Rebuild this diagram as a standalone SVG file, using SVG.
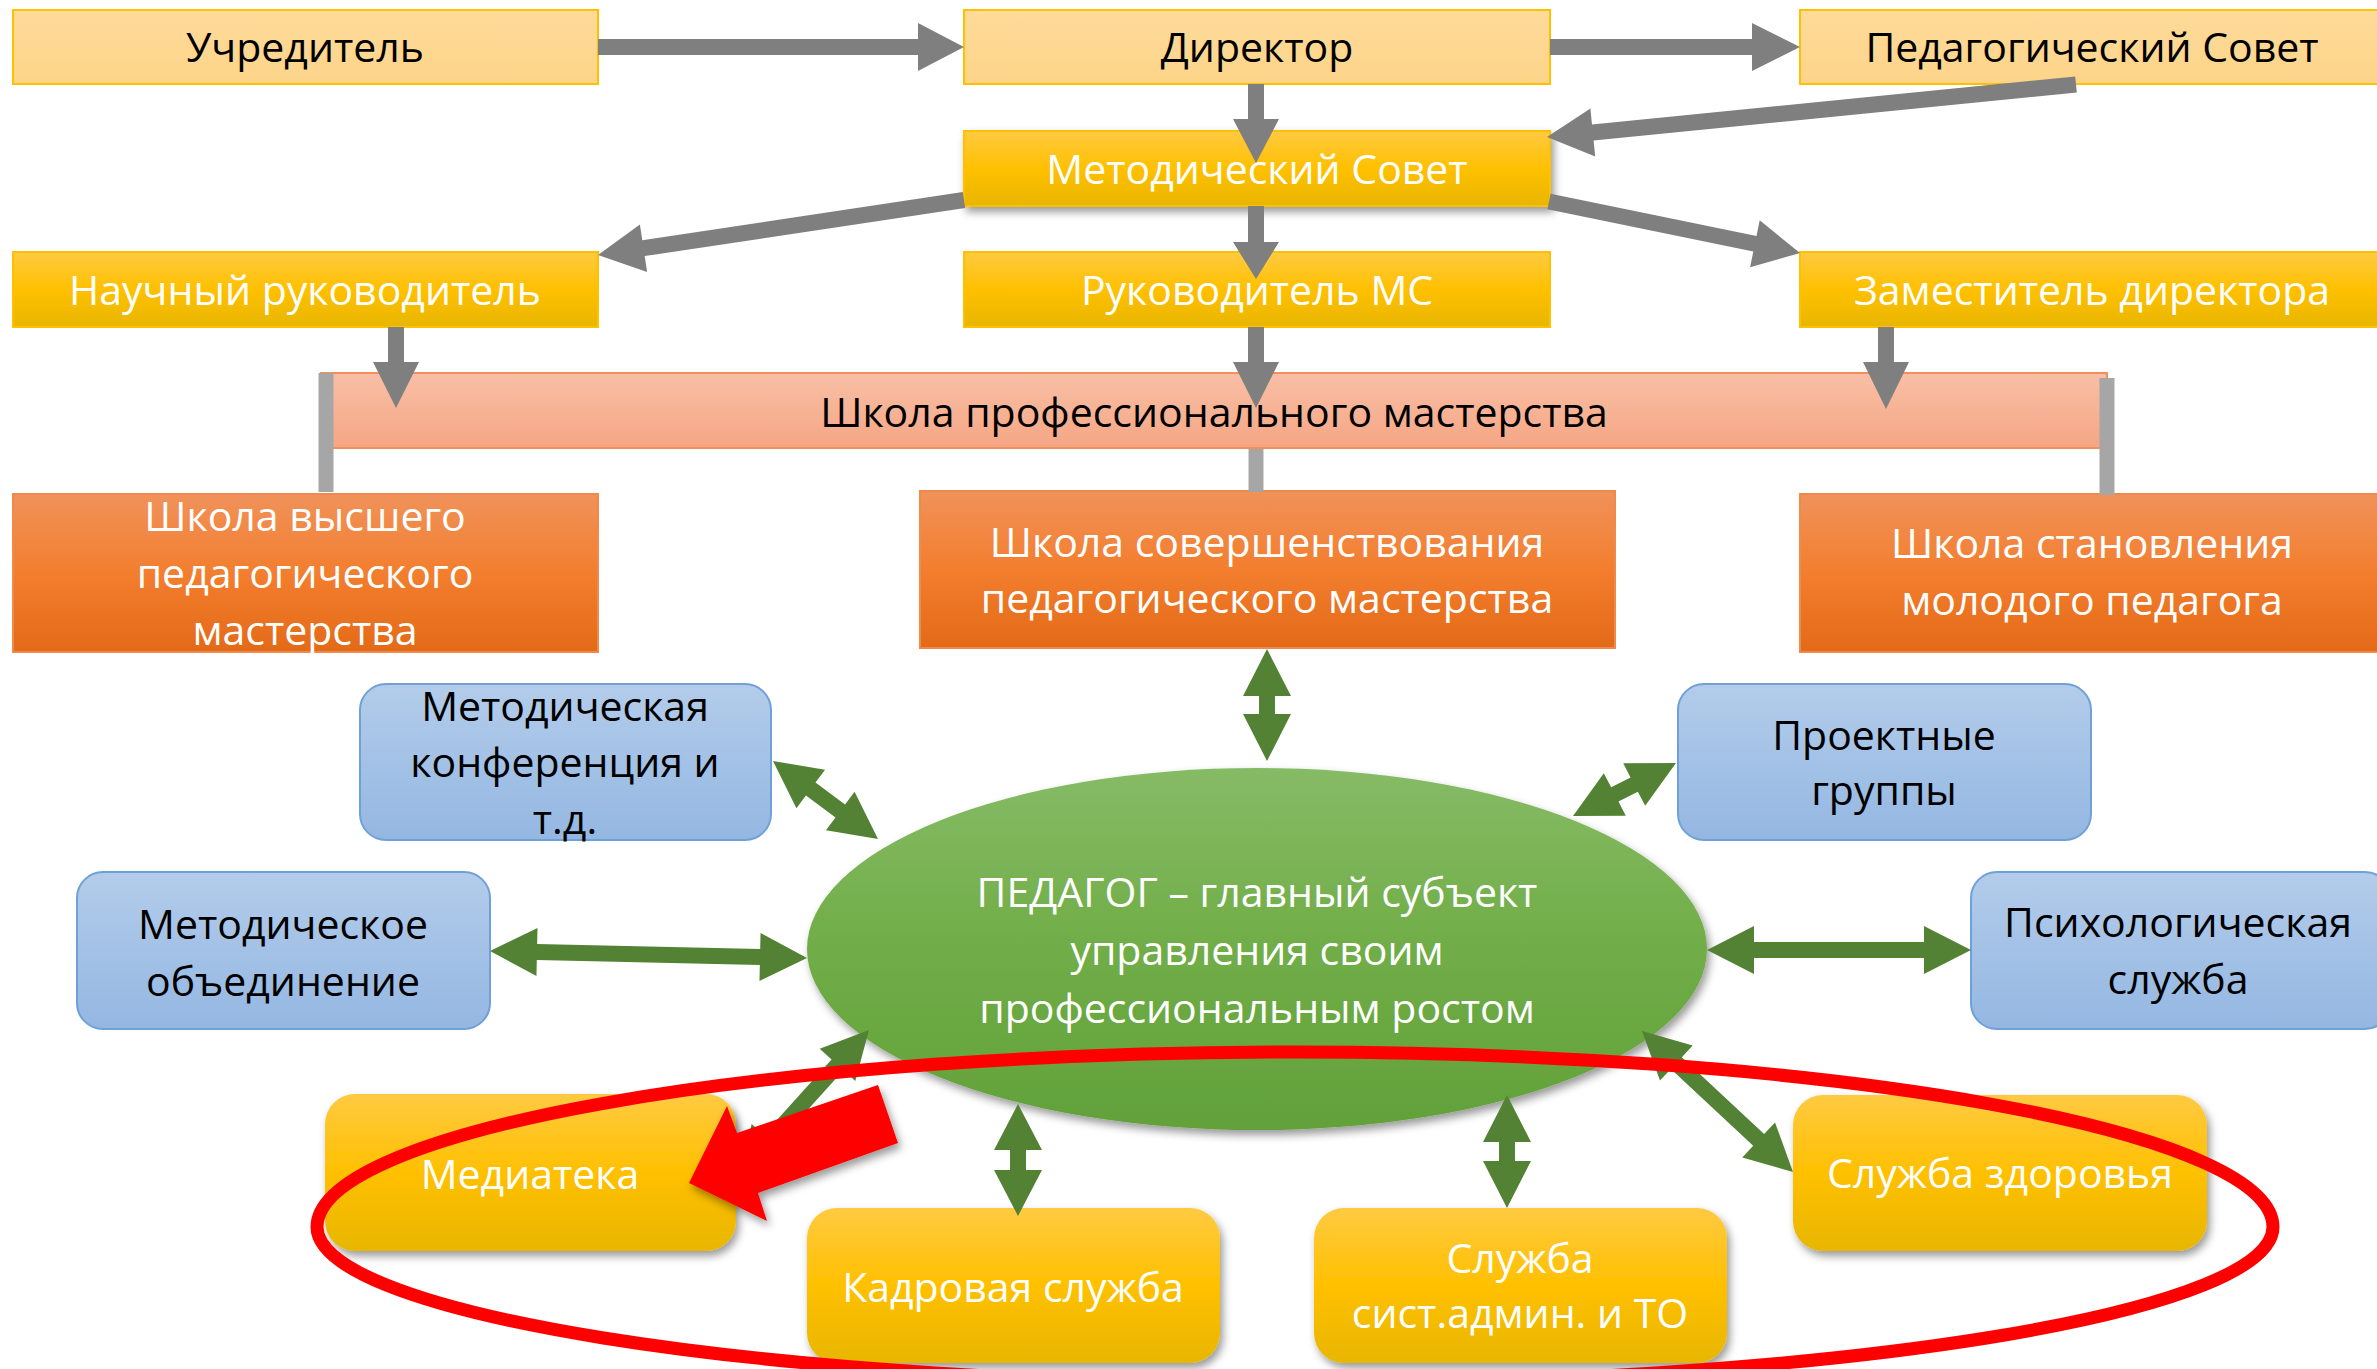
<svg xmlns="http://www.w3.org/2000/svg" width="2377" height="1369" viewBox="0 0 2377 1369">
<defs>
<linearGradient id="gLight" x1="0" y1="0" x2="0" y2="1"><stop offset="0" stop-color="#FEDB9A"/><stop offset="1" stop-color="#FDD489"/></linearGradient>
<linearGradient id="gGold" x1="0" y1="0" x2="0" y2="1"><stop offset="0" stop-color="#FFCA42"/><stop offset="0.5" stop-color="#FFC000"/><stop offset="1" stop-color="#E8B600"/></linearGradient>
<linearGradient id="gBar" x1="0" y1="0" x2="0" y2="1"><stop offset="0" stop-color="#F8BFA6"/><stop offset="1" stop-color="#F5A684"/></linearGradient>
<linearGradient id="gOrange" x1="0" y1="0" x2="0" y2="1"><stop offset="0" stop-color="#F0925A"/><stop offset="0.5" stop-color="#F37E2E"/><stop offset="1" stop-color="#E36A17"/></linearGradient>
<linearGradient id="gBlue" x1="0" y1="0" x2="0" y2="1"><stop offset="0" stop-color="#B3CCEA"/><stop offset="1" stop-color="#94B7E2"/></linearGradient>
<linearGradient id="gGreen" x1="0" y1="0" x2="0" y2="1"><stop offset="0" stop-color="#86BB66"/><stop offset="0.5" stop-color="#70AD47"/><stop offset="1" stop-color="#62A13A"/></linearGradient>
<filter id="shadow" x="-10%" y="-10%" width="130%" height="140%"><feDropShadow dx="3" dy="5" stdDeviation="4" flood-color="#000" flood-opacity="0.4"/></filter>
<style>
.t{font-family:"Open Sans","DejaVu Sans",sans-serif;font-size:41px;text-anchor:middle}
.k{fill:#000}
.w{fill:#fff}
.light{fill:url(#gLight);stroke:#FFC000;stroke-width:2}
.gold{fill:url(#gGold);stroke:#FFC000;stroke-width:2}
.bar{fill:url(#gBar);stroke:#F19059;stroke-width:2}
.orange{fill:url(#gOrange);stroke:#F08A4C;stroke-width:2}
.blue{fill:url(#gBlue);stroke:#6FA0D8;stroke-width:2}
.ygold{fill:url(#gGold)}
.ga{fill:#7F7F7F}
.gl{stroke:#A6A6A6;stroke-width:15}
.gr{fill:#548235}
</style>
</defs>
<rect width="2377" height="1369" fill="#fff"/>
<g id="nodes">
<g id="uchreditel"><rect class="light" x="13" y="10" width="585" height="74"/><text class="t k" x="305" y="62">Учредитель</text></g>
<g id="direktor"><rect class="light" x="964" y="10" width="586" height="74"/><text class="t k" x="1257" y="62">Директор</text></g>
<g id="pedsovet"><rect class="light" x="1800" y="10" width="590" height="74"/><text class="t k" x="2092" y="62">Педагогический Совет</text></g>
<g id="metodsovet"><rect class="gold" x="964" y="131" width="586" height="75" filter="url(#shadow)"/><text class="t w" x="1257" y="184">Методический Совет</text></g>
<g id="nauchny"><rect class="gold" x="13" y="252" width="585" height="75"/><text class="t w" x="305" y="305">Научный руководитель</text></g>
<g id="rukms"><rect class="gold" x="964" y="252" width="586" height="75"/><text class="t w" x="1257" y="305">Руководитель МС</text></g>
<g id="zam"><rect class="gold" x="1800" y="252" width="590" height="75"/><text class="t w" x="2092" y="305">Заместитель директора</text></g>
<g id="shkola-prof"><rect class="bar" x="321" y="373" width="1786" height="75"/><text class="t k" x="1214" y="427">Школа профессионального мастерства</text></g>
<g id="shkola-vysh"><rect class="orange" x="13" y="494" width="585" height="158"/><text class="t w" x="305" y="531">Школа высшего</text><text class="t w" x="305" y="588">педагогического</text><text class="t w" x="305" y="645">мастерства</text></g>
<g id="shkola-sov"><rect class="orange" x="920" y="491" width="695" height="157"/><text class="t w" x="1267" y="557">Школа совершенствования</text><text class="t w" x="1267" y="613">педагогического мастерства</text></g>
<g id="shkola-stan"><rect class="orange" x="1800" y="494" width="590" height="158"/><text class="t w" x="2092" y="558">Школа становления</text><text class="t w" x="2092" y="615">молодого педагога</text></g>
<g id="konf"><rect class="blue" x="360" y="684" width="411" height="156" rx="26"/><text class="t k" x="565" y="721">Методическая</text><text class="t k" x="565" y="777">конференция и</text><text class="t k" x="565" y="834">т.д.</text></g>
<g id="metodob"><rect class="blue" x="77" y="872" width="413" height="157" rx="26"/><text class="t k" x="283" y="939">Методическое</text><text class="t k" x="283" y="996">объединение</text></g>
<g id="proekt"><rect class="blue" x="1678" y="684" width="413" height="156" rx="26"/><text class="t k" x="1884" y="750">Проектные</text><text class="t k" x="1884" y="805">группы</text></g>
<g id="psih"><rect class="blue" x="1971" y="872" width="420" height="157" rx="26"/><text class="t k" x="2178" y="937">Психологическая</text><text class="t k" x="2178" y="994">служба</text></g>
<g id="pedagog"><ellipse cx="1257" cy="949" rx="450" ry="181" fill="url(#gGreen)" filter="url(#shadow)"/><text class="t w" x="1257" y="907">ПЕДАГОГ – главный субъект</text><text class="t w" x="1257" y="965">управления своим</text><text class="t w" x="1257" y="1023">профессиональным ростом</text></g>
<g id="media"><rect class="ygold" x="325" y="1094" width="411" height="157" rx="30" filter="url(#shadow)"/><text class="t w" x="530" y="1189">Медиатека</text></g>
<g id="kadr"><rect class="ygold" x="807" y="1208" width="413" height="155" rx="30" filter="url(#shadow)"/><text class="t w" x="1013" y="1302">Кадровая служба</text></g>
<g id="sysadm"><rect class="ygold" x="1314" y="1208" width="413" height="155" rx="30" filter="url(#shadow)"/><text class="t w" x="1520" y="1273">Служба</text><text class="t w" x="1520" y="1328">сист.админ. и ТО</text></g>
<g id="zdorov"><rect class="ygold" x="1793" y="1095" width="414" height="156" rx="30" filter="url(#shadow)"/><text class="t w" x="2000" y="1188">Служба здоровья</text></g>
</g>
<g id="connectors">
<polygon class="ga" points="598,39 918,39 918,23 964,47 918,71 918,55 598,55"/>
<polygon class="ga" points="1550,39 1752,39 1752,23 1800,47 1752,71 1752,55 1550,55"/>
<polygon class="ga" points="1248,84 1248,119 1233,119 1256,163 1279,119 1264,119 1264,84"/>
<polygon class="ga" points="1248,206 1248,242 1233,242 1256,279 1279,242 1264,242 1264,206"/>
<polygon class="ga" points="962.8,192.1 642.3,240.3 639.9,224.5 598,255 647.1,271.9 644.7,256.1 965.2,207.9"/>
<polygon class="ga" points="2075.2,76.5 1592,124.5 1590.4,108.6 1547,137 1595.2,156.4 1593.6,140.5 2076.8,92.5"/>
<polygon class="ga" points="1550.6,193.7 1756.5,236 1759.7,220.3 1800,253 1750.1,267.3 1753.3,251.6 1547.4,209.3"/>
<polygon class="ga" points="388,327 388,362 373,362 396,408 419,362 404,362 404,327"/>
<polygon class="ga" points="1248,327 1248,362 1233,362 1256,408 1279,362 1264,362 1264,327"/>
<polygon class="ga" points="1878,327 1878,362 1863,362 1886,409 1909,362 1894,362 1894,327"/>
<line class="gl" x1="326" y1="373" x2="326" y2="492"/>
<line class="gl" x1="1256" y1="449" x2="1256" y2="492"/>
<line class="gl" x1="2107" y1="378" x2="2107" y2="495"/>
<polygon class="gr" points="1267,649 1291,696 1275,696 1275,714 1291,714 1267,761 1243,714 1259,714 1259,696 1243,696"/>
<polygon class="gr" points="1018,1104 1042,1150 1026,1150 1026,1170 1042,1170 1018,1216 994,1170 1010,1170 1010,1150 994,1150"/>
<polygon class="gr" points="1507,1095 1531,1142 1515,1142 1515,1161 1531,1161 1507,1208 1483,1161 1499,1161 1499,1142 1483,1142"/>
<polygon class="gr" points="490,951 536.46,976.03 536.81,960.04 759.83,964.96 759.48,980.95 807,958 760.54,932.97 760.19,948.96 537.17,944.04 537.52,928.05"/>
<polygon class="gr" points="1707,950 1754,926 1754,942 1924,942 1924,926 1971,950 1924,974 1924,958 1754,958 1754,974"/>
<polygon class="gr" points="773,761 796.42,808.29 805.96,795.45 835.5,817.39 825.96,830.23 878,839 854.58,791.71 845.04,804.55 815.5,782.61 825.04,769.77"/>
<polygon class="gr" points="1573,816 1625.78,815.84 1618.46,801.61 1637.86,791.63 1645.18,805.86 1676,763 1623.22,763.16 1630.54,777.39 1611.14,787.37 1603.82,773.14"/>
<polygon class="gr" points="1642,1031 1659.97,1080.62 1670.89,1068.93 1753.19,1145.77 1742.27,1157.46 1793,1172 1775.03,1122.38 1764.11,1134.07 1681.81,1057.23 1692.73,1045.54"/>
<polygon class="gr" points="869,1030 819.68,1048.79 831.55,1059.52 763.57,1134.76 751.7,1124.03 738,1175 787.32,1156.21 775.45,1145.48 843.43,1070.24 855.3,1080.97"/>
</g>
<g id="highlight">
<path d="M317,1227 A978,175 0 0 1 2273,1227 A978,157 0 0 1 317,1227 Z" fill="none" stroke="#FF0000" stroke-width="13"/>
<polygon points="689,1183 727,1106 737,1133 878,1085 898,1143 758,1193 767,1221" fill="#FF0000" filter="url(#shadow)"/>
</g>
</svg>
